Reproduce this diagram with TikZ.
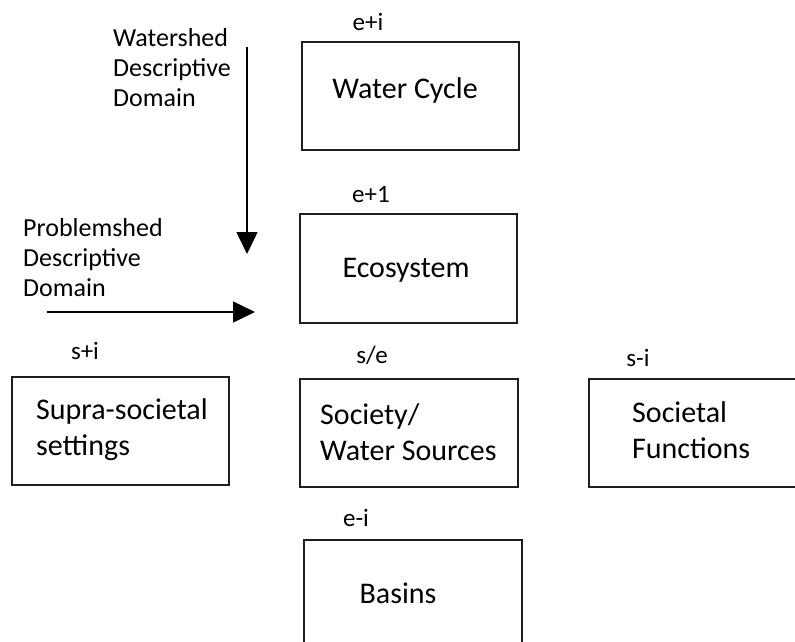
\documentclass[tikz,border=0pt]{standalone}
\usepackage{fontspec}
\setmainfont{Carlito}
\usepackage{tikz}
\usetikzlibrary{positioning}
\usetikzlibrary{arrows.meta}
\definecolor{randgrau}{gray}{0.12}

\begin{document}
\begin{tikzpicture}[
x=1pt, y=-1pt,
kasten/.style={draw=randgrau, line width=1.7pt, minimum width=217pt, minimum height=108pt, inner sep=0pt, anchor=north west},
inhalt/.style={inner sep=0pt, align=left, font=\fontsize{30}{36}\selectfont},
ebene/.style={inner sep=0pt, font=\fontsize{25}{30}\selectfont},
domaene/.style={inner sep=0pt, align=left, anchor=west, font=\fontsize{26}{30}\selectfont},
pfeil/.style={line width=1.4pt, -{Triangle[length=22pt,width=21pt]}}
]
\useasboundingbox (0,0) rectangle (795,641);

% Kaesten
\node[kasten] (wasserkreis) at (301,41) {};
\node[kasten, minimum height=109pt] (oekosystem) at (299,213) {};
\node[kasten] (supra) at (11,376) {};
\node[kasten, minimum width=218pt] (gesellschaft) at (299,378) {};
\node[kasten, minimum width=222pt] (funktionen) at (588,378) {}; % rechts abgeschnitten
\node[kasten, minimum width=218pt] (becken) at (303,539) {};

% Texte in den Kaesten
\node[inhalt] (twasser) at (405,90) {Water Cycle};
\node[inhalt] (toeko) at (406,270) {Ecosystem};
\node[inhalt, anchor=west] (tsupra) at (36,430) {Supra-societal\\settings};
\node[inhalt, anchor=west] (tgesell) at (320,432) {Society/\\Water Sources};
\node[inhalt, anchor=west] (tfunk) at (632,430) {Societal\\Functions};
\node[inhalt] (tbecken) at (398,593) {Basins};

% Ebenen
\node[ebene] (ei) at (368,22) {e+i};
\node[ebene] (eeins) at (371,195) {e+1};
\node[ebene] (si) at (85,351) {s+i};
\node[ebene] (se) at (372,355) {s/e};
\node[ebene] (sminus) at (638,358) {s-i};
\node[ebene] (eminus) at (356,518) {e-i};

% Beschreibende Domaenen
\node[domaene] (watershed) at (113,68) {Watershed\\Descriptive\\Domain};
\node[domaene] (problemshed) at (23,258) {Problemshed\\Descriptive\\Domain};

% Pfeile
\coordinate (wstart) at (247,47);
\coordinate (wende) at (247,254);
\coordinate (pstart) at (47,312);
\coordinate (pende) at (255,312);
\draw[pfeil] (wstart) -- (wende);
\draw[pfeil] (pstart) -- (pende);
\end{tikzpicture}
\end{document}
